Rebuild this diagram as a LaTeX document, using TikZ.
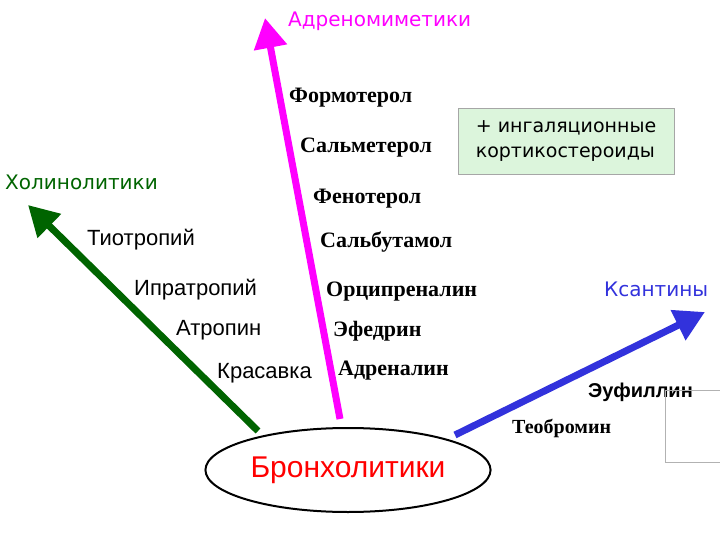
\documentclass[tikz,border=0pt]{standalone}
\usepackage{fontspec}
\setmainfont{Liberation Serif}
\newfontfamily\sans{DejaVu Sans}
\newfontfamily\ari{Liberation Sans}
\usetikzlibrary{arrows.meta,shapes.geometric}
\definecolor{mag}{RGB}{255,0,255}
\definecolor{grn}{RGB}{0,100,0}
\definecolor{blu}{RGB}{50,50,220}
\definecolor{boxg}{RGB}{220,245,220}
\tikzset{
 drug/.style={font=\fontsize{22}{24}\selectfont\bfseries, anchor=west, inner sep=0},
 sdrug/.style={font=\ari\fontsize{22}{24}\selectfont, anchor=west, inner sep=0},
 cat/.style={font=\sans\fontsize{20}{22}\selectfont, anchor=west, inner sep=0},
 bigarrow/.style={line width=7pt, -{Triangle[length=30pt,width=32pt]}}
}
\begin{document}
\begin{tikzpicture}[x=1pt,y=-1pt]
\useasboundingbox (0,0) rectangle (720,540);
\node[draw, line width=2pt, ellipse, minimum width=266pt, minimum height=84pt, font=\ari\fontsize{30}{32}\selectfont, text=red] (br) at (348,470) {Бронхолитики};
\coordinate (tA) at (265,18);
\coordinate (tC) at (28,205);
\coordinate (tK) at (705,312);
\coordinate (sA) at (340,419);
\coordinate (sC) at (258,431);
\coordinate (sK) at (455,435);
\draw[bigarrow, mag] (sA) -- (tA);
\draw[bigarrow, grn] (sC) -- (tC);
\draw[bigarrow, blu] (sK) -- (tK);
\node[cat, text=mag] (a) at (288,21) {Адреномиметики};
\node[cat, text=grn] (c) at (5,182) {Холинолитики};
\node[cat, text=blu] (k) at (604,289) {Ксантины};
\node[drug] (f1) at (289,98) {Формотерол};
\node[drug] (f2) at (300,148) {Сальметерол};
\node[drug] (f3) at (313,199) {Фенотерол};
\node[drug] (f4) at (320,242) {Сальбутамол};
\node[drug] (f5) at (326,292) {Орципреналин};
\node[drug] (f6) at (333,331) {Эфедрин};
\node[drug] (f7) at (338,371) {Адреналин};
\node[drug, font=\fontsize{20}{22}\selectfont\bfseries] (t1) at (512,428) {Теобромин};
\node[sdrug] (h1) at (87,240) {Тиотропий};
\node[sdrug] (h2) at (134,290) {Ипратропий};
\node[sdrug] (h3) at (176,330) {Атропин};
\node[sdrug] (h4) at (217,373) {Красавка};
\node[sdrug, font=\ari\bfseries\fontsize{20}{22}\selectfont] (e1) at (588,392) {Эуфиллин};
\node[draw=gray!70, fill=boxg, font=\sans\fontsize{19}{25}\selectfont, align=left, minimum width=216pt, minimum height=66pt, inner sep=3pt] (box) at (566,141) {+ ингаляционные\\кортикостероиды};
\draw[gray!60, line width=0.8pt] (720,390) -- (665,390) -- (665,462) -- (720,462);
\end{tikzpicture}
\end{document}
